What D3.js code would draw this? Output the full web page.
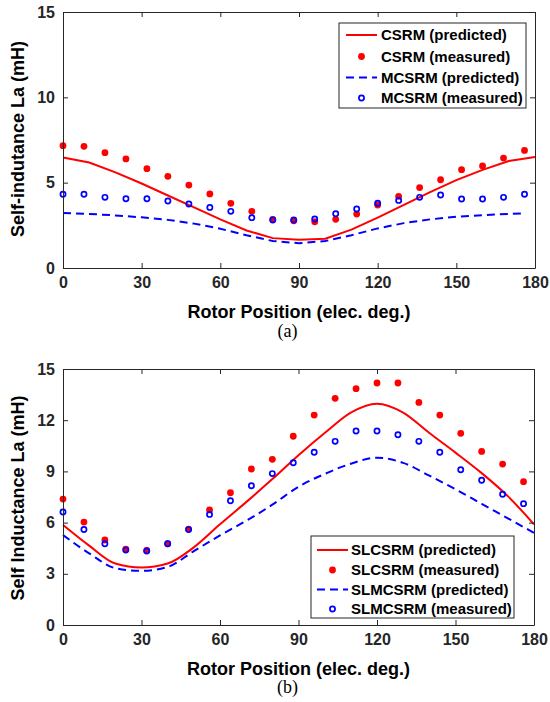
<!DOCTYPE html>
<html>
<head>
<meta charset="utf-8">
<script src="https://cdn.jsdelivr.net/npm/d3@7/dist/d3.min.js"></script>
<style>
  html, body { margin: 0; padding: 0; background: #fff; }
  svg { display: block; }
  text { font-family: "Liberation Sans", Arial, sans-serif; }
</style>
</head>
<body>
<svg id="chart" width="550" height="702"></svg>
<script>
// ---- Data -------------------------------------------------------------
const xTicks = [0, 30, 60, 90, 120, 150, 180];
const yTicksA = [0, 5, 10, 15];
const yTicksB = [0, 3, 6, 9, 12, 15];

// rotor angles (elec. deg.)
const measuredAngles = [0, 8, 16, 24, 32, 40, 48, 56, 64, 72, 80, 88,
                        96, 104, 112, 120, 128, 136, 144, 152, 160, 168, 176];
const predictedAngles = [0, 10, 20, 30, 40, 50, 60, 70, 80, 90,
                         100, 110, 120, 130, 140, 150, 160, 170, 180];
const predictedAnglesShort = [0, 10, 20, 30, 40, 50, 60, 70, 80, 90,
                              100, 110, 120, 130, 140, 150, 160, 170, 175];

// (a) CSRM / MCSRM self-inductance, mH
const csrmPredicted = [6.47, 6.18, 5.6, 4.95, 4.25, 3.55, 2.85, 2.2, 1.75, 1.65,
                       1.72, 2.25, 2.95, 3.7, 4.45, 5.15, 5.75, 6.27, 6.5];
const csrmMeasured = [7.17, 7.13, 6.76, 6.39, 5.82, 5.37, 4.86, 4.34, 3.79, 3.32, 2.85, 2.77,
                      2.71, 2.85, 3.16, 3.69, 4.2, 4.71, 5.17, 5.76, 5.98, 6.44, 6.89];
const mcsrmPredicted = [3.22, 3.17, 3.08, 2.97, 2.82, 2.6, 2.3, 1.92, 1.58, 1.45,
                        1.58, 1.92, 2.32, 2.63, 2.85, 3.0, 3.1, 3.17, 3.2];
const mcsrmMeasured = [4.32, 4.32, 4.14, 4.06, 4.06, 3.93, 3.75, 3.55, 3.32, 2.95, 2.81, 2.81,
                       2.87, 3.18, 3.46, 3.79, 3.96, 4.14, 4.28, 4.04, 4.04, 4.14, 4.32];

// (b) SLCSRM / SLMCSRM self-inductance, mH
const slcsrmPredicted = [5.86, 4.65, 3.6, 3.37, 3.6, 4.55, 5.9, 7.2, 8.55, 9.95,
                         11.25, 12.45, 12.97, 12.45, 11.25, 10.1, 8.9, 7.55, 5.9];
const slcsrmMeasured = [7.38, 6.03, 4.98, 4.45, 4.37, 4.76, 5.62, 6.74, 7.75, 9.14, 9.71, 11.06,
                        12.3, 13.28, 13.85, 14.18, 14.18, 13.04, 12.3, 11.23, 10.17, 9.43, 8.4];
const slmcsrmPredicted = [5.27, 4.2, 3.33, 3.17, 3.4, 4.33, 5.25, 6.1, 7.05, 8.1,
                          8.85, 9.45, 9.8, 9.5, 8.75, 7.95, 7.1, 6.25, 5.4];
const slmcsrmMeasured = [6.62, 5.6, 4.76, 4.39, 4.34, 4.76, 5.59, 6.48, 7.28, 8.16, 8.87, 9.51,
                         10.12, 10.76, 11.37, 11.37, 11.15, 10.76, 10.12, 9.1, 8.48, 7.66, 7.11];

const namesA = ["CSRM (predicted)", "CSRM (measured)", "MCSRM (predicted)", "MCSRM (measured)"];
const namesB = ["SLCSRM (predicted)", "SLCSRM (measured)", "SLMCSRM (predicted)", "SLMCSRM (measured)"];

// ---- Styles -----------------------------------------------------------
const RED = "#ff0000", BLUE = "#0000ff";
const AXIS = "#262626";
const DASH = "8,5";

const svg = d3.select("#chart");

function zip(xs, ys) { return xs.map((x, i) => [x, ys[i]]); }

function drawPanel(p) {
  const x = d3.scaleLinear().domain([0, 180]).range([p.left, p.right]);
  const y = d3.scaleLinear().domain([0, 15]).range([p.bottom, p.top]);
  const g = svg.append("g");

  // plot lines
  const line = d3.line().x(d => x(d[0])).y(d => y(d[1])).curve(p.curve);
  g.append("path").datum(zip(p.series[0].x, p.series[0].y))
    .attr("d", line).attr("fill", "none")
    .attr("stroke", RED).attr("stroke-width", 2);
  g.append("path").datum(zip(p.series[2].x, p.series[2].y))
    .attr("d", line).attr("fill", "none")
    .attr("stroke", BLUE).attr("stroke-width", 2).attr("stroke-dasharray", DASH);

  // measured markers
  g.append("g").selectAll("circle").data(zip(p.series[1].x, p.series[1].y)).join("circle")
    .attr("cx", d => x(d[0])).attr("cy", d => y(d[1])).attr("r", 3.4)
    .attr("fill", RED);
  g.append("g").selectAll("circle").data(zip(p.series[3].x, p.series[3].y)).join("circle")
    .attr("cx", d => x(d[0])).attr("cy", d => y(d[1])).attr("r", 2.6)
    .attr("fill", "none").attr("stroke", BLUE).attr("stroke-width", 1.7);

  // axes: box with inward ticks on all sides
  const styleAxis = sel => {
    sel.select(".domain").attr("stroke", AXIS).attr("stroke-width", 1);
    sel.selectAll(".tick line").attr("stroke", AXIS).attr("stroke-width", 1);
    sel.selectAll(".tick text").attr("fill", AXIS)
      .style("font-size", "16px").style("font-weight", "bold")
      .style("font-family", "'Liberation Sans', Arial, sans-serif");
  };
  g.append("g").attr("transform", `translate(0,${p.bottom})`)
    .call(d3.axisBottom(x).tickValues(xTicks).tickSizeInner(-5).tickSizeOuter(0).tickPadding(9))
    .call(styleAxis);
  g.append("g").attr("transform", `translate(0,${p.top})`)
    .call(d3.axisTop(x).tickValues(xTicks).tickSizeInner(-5).tickSizeOuter(0).tickFormat(""))
    .call(styleAxis);
  g.append("g").attr("transform", `translate(${p.left},0)`)
    .call(d3.axisLeft(y).tickValues(p.yTicks).tickSizeInner(-5).tickSizeOuter(0).tickPadding(8))
    .call(styleAxis);
  g.append("g").attr("transform", `translate(${p.right},0)`)
    .call(d3.axisRight(y).tickValues(p.yTicks).tickSizeInner(-5).tickSizeOuter(0).tickFormat(""))
    .call(styleAxis);

  // axis titles
  g.append("text").attr("x", (p.left + p.right) / 2).attr("y", p.bottom + 49.5)
    .attr("text-anchor", "middle").attr("fill", "#000")
    .style("font-size", "18px").style("font-weight", "bold")
    .text("Rotor Position (elec. deg.)");
  g.append("text")
    .attr("transform", `translate(${p.yTitleX},${p.yTitleY}) rotate(-90)`)
    .attr("text-anchor", "middle").attr("fill", "#000")
    .style("font-size", "18px").style("font-weight", "bold")
    .text(p.yTitle);

  // panel caption
  g.append("text").attr("x", 287.5).attr("y", p.captionY)
    .attr("text-anchor", "middle").attr("fill", "#000")
    .style("font-family", "'Liberation Serif', 'Times New Roman', serif")
    .style("font-size", "18px")
    .text(p.caption);

  // legend
  const L = p.legend;
  const lg = g.append("g");
  lg.append("rect").attr("x", L.x0).attr("y", L.y0)
    .attr("width", L.x1 - L.x0).attr("height", L.y1 - L.y0)
    .attr("fill", "#fff").attr("stroke", AXIS).attr("stroke-width", 1);
  p.names.forEach((name, i) => {
    const cy = L.rows[i];
    const mx = (L.s0 + L.s1) / 2;
    if (i === 0) {
      lg.append("line").attr("x1", L.s0).attr("x2", L.s1).attr("y1", cy).attr("y2", cy)
        .attr("stroke", RED).attr("stroke-width", 2);
    } else if (i === 1) {
      lg.append("circle").attr("cx", mx).attr("cy", cy).attr("r", 3.4).attr("fill", RED);
    } else if (i === 2) {
      lg.append("line").attr("x1", L.s0).attr("x2", L.s1).attr("y1", cy).attr("y2", cy)
        .attr("stroke", BLUE).attr("stroke-width", 2).attr("stroke-dasharray", DASH);
    } else {
      lg.append("circle").attr("cx", mx).attr("cy", cy).attr("r", 2.6)
        .attr("fill", "none").attr("stroke", BLUE).attr("stroke-width", 1.7);
    }
    lg.append("text").attr("x", L.tx).attr("y", cy + 5.3).attr("fill", "#000")
      .style("font-size", "15px").style("font-weight", "bold")
      .text(name);
  });
}

drawPanel({
  left: 63, right: 535, top: 12, bottom: 268,
  yTicks: yTicksA, curve: d3.curveLinear,
  series: [
    { x: predictedAngles, y: csrmPredicted },
    { x: measuredAngles, y: csrmMeasured },
    { x: predictedAnglesShort, y: mcsrmPredicted },
    { x: measuredAngles, y: mcsrmMeasured }
  ],
  names: namesA,
  yTitle: "Self-indutance La (mH)", yTitleX: 24, yTitleY: 139,
  caption: "(a)", captionY: 337,
  legend: { x0: 339, x1: 526, y0: 23, y1: 108, rows: [35, 56.5, 77.5, 98],
            s0: 346, s1: 377, tx: 381 }
});

drawPanel({
  left: 63, right: 534, top: 369, bottom: 625,
  yTicks: yTicksB, curve: d3.curveMonotoneX,
  series: [
    { x: predictedAngles, y: slcsrmPredicted },
    { x: measuredAngles, y: slcsrmMeasured },
    { x: predictedAngles, y: slmcsrmPredicted },
    { x: measuredAngles, y: slmcsrmMeasured }
  ],
  names: namesB,
  yTitle: "Self Inductance La (mH)", yTitleX: 24, yTitleY: 498,
  caption: "(b)", captionY: 693,
  legend: { x0: 311, x1: 514, y0: 536, y1: 618, rows: [550, 570, 589.5, 609],
            s0: 317, s1: 348, tx: 351 }
});
</script>
</body>
</html>
